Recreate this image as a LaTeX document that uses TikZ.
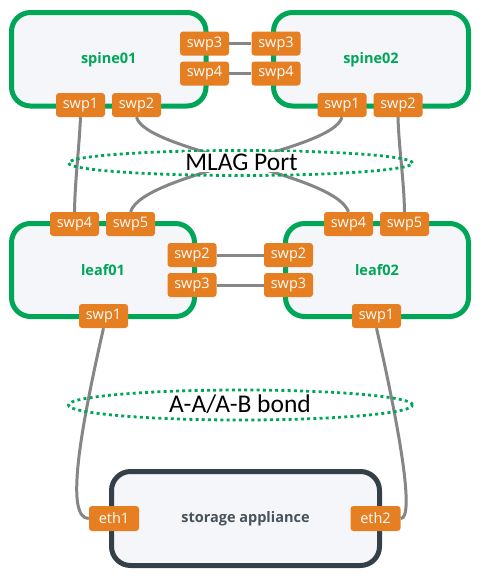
\documentclass[tikz,border=0pt]{standalone}
\usepackage{fontspec}
\setmainfont{Open Sans}
\newfontfamily\calib{Carlito}
\definecolor{cgreen}{RGB}{0,166,88}
\definecolor{corange}{RGB}{230,126,34}
\definecolor{cfill}{RGB}{244,246,250}
\definecolor{cdark}{RGB}{52,63,72}
\definecolor{cline}{RGB}{134,134,134}
\tikzset{
  devbox/.style={draw=cgreen, line width=5pt, fill=cfill, rounded corners=19pt, inner sep=0pt,
    text=cgreen, font=\bfseries\fontsize{14.5}{16}\selectfont},
  storbox/.style={draw=cdark, line width=5pt, fill=cfill, rounded corners=19pt, inner sep=0pt,
    text=cdark!90, font=\bfseries\fontsize{14.5}{16}\selectfont},
  port/.style={fill=corange, rounded corners=3pt, minimum width=49pt, minimum height=24pt, inner sep=0pt,
    text=white, font=\fontsize{14.5}{16}\selectfont},
  link/.style={draw=cline, line width=3pt},
  bond/.style={draw=cgreen, line width=2.8pt, dash pattern=on 3pt off 3.2pt},
  biglabel/.style={font=\calib\fontsize{25.5}{28}\selectfont, text=black, inner sep=2pt}
}
\begin{document}
\begin{tikzpicture}[x=1pt,y=-1pt]
\useasboundingbox (0,0) rectangle (484,581);
% devices
\node[devbox, minimum width=194.5pt, minimum height=93.5pt] (spine01) at (108.75,59.25) {spine01};
\node[devbox, minimum width=195pt, minimum height=93.5pt] (spine02) at (371,59.25) {spine02};
\node[devbox, minimum width=183pt, minimum height=93pt] (leaf01) at (103,270) {leaf01};
\node[devbox, minimum width=183pt, minimum height=93pt] (leaf02) at (377,270) {leaf02};
\node[storbox, minimum width=268pt, minimum height=94pt] (stor) at (245.5,518.5) {storage appliance};
% ports spine01
\node[port] (s1p3) at (204.5,43.5) {swp3};
\node[port] (s1p4) at (204.5,73.5) {swp4};
\node[port] (s1p1) at (80.5,105) {swp1};
\node[port] (s1p2) at (136.5,105) {swp2};
% ports spine02
\node[port] (s2p3) at (276,43.5) {swp3};
\node[port] (s2p4) at (276,73.5) {swp4};
\node[port] (s2p1) at (342,105) {swp1};
\node[port] (s2p2) at (398,105) {swp2};
% ports leaf01
\node[port] (l1p4) at (74.5,224) {swp4};
\node[port] (l1p5) at (130.5,224) {swp5};
\node[port] (l1p2) at (192,255) {swp2};
\node[port] (l1p3) at (192,285) {swp3};
\node[port] (l1p1) at (103.5,316) {swp1};
% ports leaf02
\node[port] (l2p4) at (348.5,224) {swp4};
\node[port] (l2p5) at (404.5,224) {swp5};
\node[port] (l2p2) at (288.5,255) {swp2};
\node[port] (l2p3) at (288.5,285) {swp3};
\node[port] (l2p1) at (376.5,316) {swp1};
% storage ports
\node[port, minimum width=50pt, minimum height=25pt] (eth1) at (114,518.5) {eth1};
\node[port, minimum width=50pt, minimum height=25pt] (eth2) at (375.5,518.5) {eth2};
% links
\draw[link] (s1p3.east) -- (s2p3.west);
\draw[link] (s1p4.east) -- (s2p4.west);
\draw[link] (l1p2.east) -- (l2p2.west);
\draw[link] (l1p3.east) -- (l2p3.west);
\draw[link] (s1p1.south) .. controls (79,150) and (75,180) .. (l1p4.north);
\draw[link] (s2p2.south) .. controls (399,150) and (404,180) .. (l2p5.north);
\draw[link] (s1p2.south) .. controls (146,152) and (334,172) .. (l2p4.north);
\draw[link] (s2p1.south) .. controls (332,152) and (144,172) .. (l1p5.north);
\draw[link] (l1p1.south) .. controls (78,440) and (66,518.5) .. (eth1.west);
\draw[link] (l2p1.south) .. controls (402,440) and (414,518.5) .. (eth2.east);
% MLAG
\draw[bond] (240.5,163) ellipse [x radius=172pt, y radius=12.5pt];
\node[biglabel, fill=white] (mlag) at (241.5,162) {MLAG Port};
% bond
\draw[bond] (240.5,405) ellipse [x radius=172pt, y radius=15pt];
\node[biglabel] (bondlbl) at (240,404) {A-A/A-B bond};
\end{tikzpicture}
\end{document}
